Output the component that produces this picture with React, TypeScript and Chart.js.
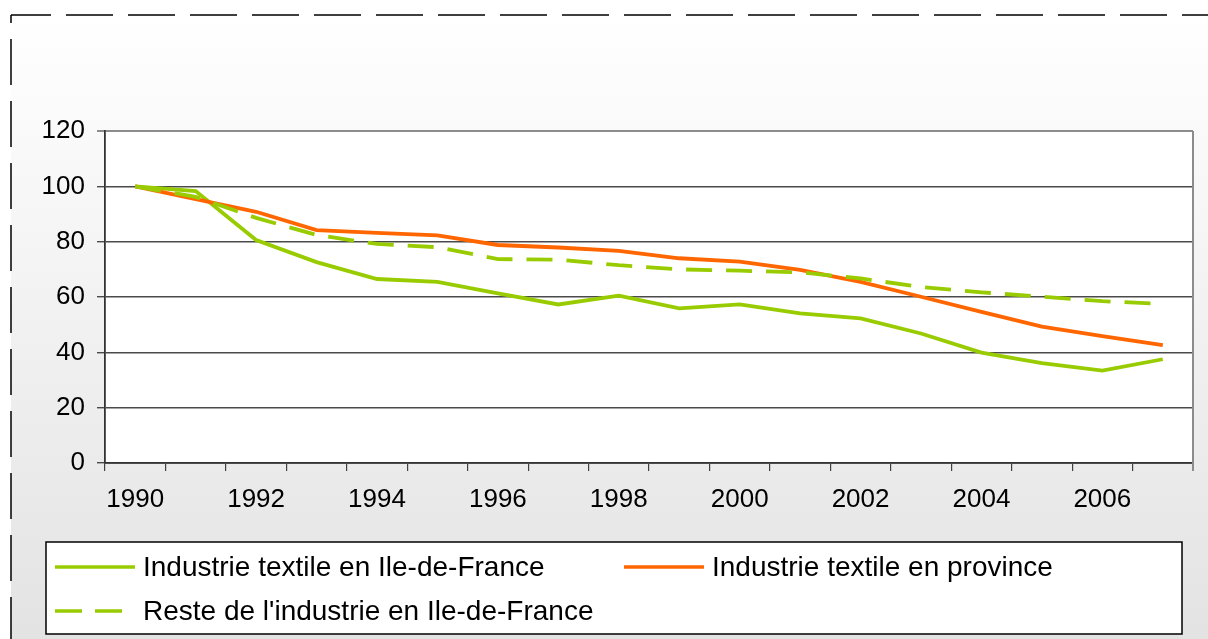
import React, { useEffect, useRef } from "react";
import { Chart, registerables } from "chart.js";

Chart.register(...registerables);

const years = ["1990","1991","1992","1993","1994","1995","1996","1997","1998","1999","2000","2001","2002","2003","2004","2005","2006","2007"];
const textileIdf = [100, 98.3, 80.6, 72.6, 66.5, 65.5, 61.3, 57.3, 60.5, 55.9, 57.3, 54.1, 52.3, 46.8, 39.9, 36.1, 33.4, 37.5];
const textileProvince = [100, 95.4, 90.8, 84.2, 83.2, 82.3, 78.8, 77.9, 76.7, 74.0, 72.8, 69.8, 65.5, 60.1, 54.6, 49.3, 45.9, 42.6];
const resteIdf = [100, 96.2, 88.6, 82.4, 79.2, 78.0, 73.7, 73.5, 71.5, 70.0, 69.5, 68.9, 66.7, 63.6, 61.7, 60.1, 58.5, 57.5];
const seriesNames = ["Industrie textile en Ile-de-France", "Industrie textile en province", "Reste de l'industrie en Ile-de-France"];
const yTicks = [0, 20, 40, 60, 80, 100, 120];

const GREEN = "#99cc00";
const ORANGE = "#ff6600";
const FONT = "Liberation Sans, Arial, sans-serif";

const framePlugin = {
  id: "frame",
  beforeDraw(chart: any) {
    const { ctx, width, height, chartArea } = chart;
    ctx.save();
    ctx.fillStyle = "#ffffff";
    ctx.fillRect(0, 0, width, height);
    const g = ctx.createLinearGradient(0, 15, 0, height);
    g.addColorStop(0, "#ffffff");
    g.addColorStop(1, "#e3e3e3");
    ctx.fillStyle = g;
    ctx.fillRect(11, 15, width - 11, height - 15);
    ctx.strokeStyle = "#000";
    ctx.lineWidth = 1.5;
    ctx.setLineDash([47, 15]);
    ctx.lineDashOffset = 7;
    ctx.beginPath();
    ctx.moveTo(11, 15);
    ctx.lineTo(width, 15);
    ctx.stroke();
    ctx.setLineDash([46, 16]);
    ctx.lineDashOffset = 38;
    ctx.beginPath();
    ctx.moveTo(11, 15);
    ctx.lineTo(11, height);
    ctx.stroke();
    ctx.setLineDash([]);
    ctx.fillStyle = "#ffffff";
    ctx.fillRect(chartArea.left, chartArea.top, chartArea.right - chartArea.left, chartArea.bottom - chartArea.top);
    ctx.restore();
  },
  beforeDatasetsDraw(chart: any) {
    const { ctx, chartArea } = chart;
    ctx.save();
    ctx.strokeStyle = "#8c8c8c";
    ctx.lineWidth = 2;
    ctx.beginPath();
    ctx.moveTo(chartArea.right, chartArea.top);
    ctx.lineTo(chartArea.right, chartArea.bottom + 8);
    ctx.stroke();
    ctx.restore();
  },
  afterDraw(chart: any) {
    const { ctx } = chart;
    ctx.save();
    ctx.fillStyle = "#ffffff";
    ctx.fillRect(46, 542, 1136, 92);
    ctx.strokeStyle = "#000";
    ctx.lineWidth = 1.5;
    ctx.strokeRect(46, 542, 1136, 92);
    const items = [
      { x: 55, y: 567, color: GREEN, dash: [] as number[], text: seriesNames[0] },
      { x: 624, y: 567, color: ORANGE, dash: [] as number[], text: seriesNames[1] },
      { x: 55, y: 611, color: GREEN, dash: [27, 13], text: seriesNames[2] },
    ];
    ctx.font = `28px ${FONT}`;
    ctx.textBaseline = "middle";
    ctx.textAlign = "left";
    for (const it of items) {
      ctx.strokeStyle = it.color;
      ctx.lineWidth = 3.5;
      ctx.setLineDash(it.dash);
      ctx.lineDashOffset = 0;
      ctx.beginPath();
      ctx.moveTo(it.x, it.y);
      ctx.lineTo(it.x + 80, it.y);
      ctx.stroke();
      ctx.setLineDash([]);
      ctx.fillStyle = "#000";
      ctx.fillText(it.text, it.x + 88, it.y + 1);
    }
    ctx.restore();
  },
};

export default function App() {
  const ref = useRef<HTMLCanvasElement | null>(null);
  useEffect(() => {
    if (!ref.current) return;
    const chart = new Chart(ref.current, {
      type: "line",
      data: {
        labels: years,
        datasets: [
          { label: seriesNames[0], data: textileIdf, borderColor: GREEN, backgroundColor: GREEN, borderWidth: 3.8, pointRadius: 0, tension: 0, order: 2 },
          { label: seriesNames[1], data: textileProvince, borderColor: ORANGE, backgroundColor: ORANGE, borderWidth: 3.8, pointRadius: 0, tension: 0, order: 1 },
          { label: seriesNames[2], data: resteIdf, borderColor: GREEN, backgroundColor: GREEN, borderWidth: 3.8, borderDash: [26, 14], pointRadius: 0, tension: 0, order: 0 },
        ],
      },
      options: {
        responsive: false,
        animation: false,
        events: [],
        layout: { padding: { left: 0, right: 15, top: 131, bottom: 116 } },
        plugins: { legend: { display: false }, tooltip: { enabled: false } },
        scales: {
          x: {
            offset: true,
            grid: { offset: true, drawOnChartArea: false, drawTicks: true, tickLength: 8, color: "#404040", lineWidth: 1.2 },
            border: { color: "#333333", width: 1.8 },
            ticks: {
              autoSkip: false,
              maxRotation: 0,
              padding: 13,
              color: "#000",
              font: { family: FONT, size: 26 },
              callback: (_v: any, i: number) => (i % 2 === 0 ? years[i] : ""),
            },
            afterFit: (s: any) => { s.height = 60; },
          },
          y: {
            min: 0,
            max: 120,
            afterBuildTicks: (s: any) => { s.ticks = yTicks.map((v) => ({ value: v })); },
            grid: {
              tickLength: 8,
              lineWidth: (c: any) => (c.tick && c.tick.value === 120 ? 2 : 1.4),
              color: (c: any) => (c.tick && c.tick.value === 120 ? "#8c8c8c" : "#4a4a4a"),
            },
            border: { color: "#333333", width: 1.8 },
            ticks: { padding: 12, color: "#000", font: { family: FONT, size: 26 } },
            afterFit: (s: any) => { s.width = 105; },
          },
        },
      },
      plugins: [framePlugin],
    });
    return () => chart.destroy();
  }, []);
  return (
    <div style={{ position: "absolute", left: 0, top: 0, width: 1208, height: 639 }}>
      <canvas ref={ref} width={1208} height={639} style={{ display: "block" }} />
    </div>
  );
}
